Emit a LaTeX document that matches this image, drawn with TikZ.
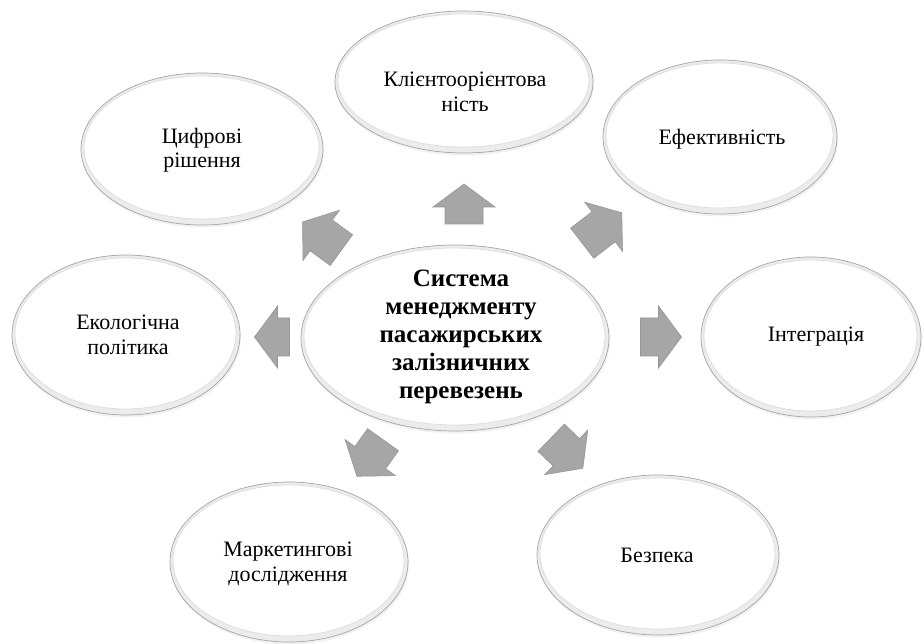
\documentclass[tikz,border=0pt]{standalone}
\usepackage{fontspec}
\setmainfont{Liberation Serif}
\usetikzlibrary{shapes.geometric}
\definecolor{arrowfill}{RGB}{166,166,166}
\definecolor{arrowedge}{RGB}{150,150,150}
\definecolor{bubedge}{RGB}{165,165,165}
\definecolor{bubband}{RGB}{236,236,236}
\definecolor{bubring}{RGB}{222,222,222}
\tikzset{
  bub/.style={ellipse, draw=bubedge, line width=0.7pt, fill=bubband, inner sep=0pt},
  bubshadow/.style={fill=black, opacity=0.05},
  bubinner/.style={fill=white, draw=bubring, line width=0.8pt},
  lbl/.style={align=center, inner sep=0pt, font=\fontsize{22}{24.5}\selectfont},
  mainlbl/.style={align=center, inner sep=0pt, font=\fontsize{25}{28}\selectfont\bfseries},
  blockarrow/.style={fill=arrowfill, draw=arrowedge, line width=0.6pt, line join=miter}
}
% \bubble{name}{x}{y}{rx}{ry}
\newcommand{\bubble}[5]{%
  \fill[bubshadow] (#2+1,#3+2.5) ellipse ({#4pt} and {#5pt});
  \node[bub, minimum width=2*#4pt, minimum height=2*#5pt] (#1) at (#2,#3) {};
  \path[bubinner] (#2-0.5,#3-1.5) ellipse ({#4pt-3.5pt} and {#5pt-4.5pt});
}
% \blkarrow{x}{y}{angle}{length}
\newcommand{\blkarrow}[4]{%
  \path[blockarrow, shift={(#1,#2)}, rotate=#3]
    (-#4/2,-19) -- (#4/2-23,-19) -- (#4/2-23,-31) -- (#4/2,0) --
    (#4/2-23,31) -- (#4/2-23,19) -- (-#4/2,19) -- cycle;
}
\begin{document}
\begin{tikzpicture}[x=1pt,y=-1pt]
\useasboundingbox (0,0) rectangle (924,644);
\fill[white] (0,0) rectangle (924,644);

% satellites
\bubble{kl}{464}{82}{129}{71}
\bubble{cy}{202}{149}{121}{76}
\bubble{ef}{720}{137}{117}{77}
\bubble{ek}{126}{335}{114}{80}
\bubble{int}{811}{337}{110}{80}
\bubble{ma}{289}{562}{119}{80}
\bubble{be}{658}{555}{121}{80}
% centre
\bubble{ce}{455}{338}{154}{93}

\node[lbl] (klt) at (465,92) {Клієнтоорієнтова\\ність};
\node[lbl] (cyt) at (202,150) {Цифрові\\рішення};
\node[lbl] (eft) at (722,139) {Ефективність};
\node[lbl] (ekt) at (128,335) {Екологічна\\політика};
\node[lbl] (intt) at (816,337) {Інтеграція};
\node[lbl] (mat) at (288,564) {Маркетингові\\дослідження};
\node[lbl] (bet) at (657,555) {Безпека};
\node[mainlbl] (cet) at (461,337) {Система\\менеджменту\\пасажирських\\залізничних\\перевезень};

% block arrows
\blkarrow{464}{204}{90}{40}
\blkarrow{661}{337}{0}{41}
\blkarrow{272}{337}{180}{35}
\blkarrow{322}{236}{144}{48}
\blkarrow{602}{228}{37.6}{50}
\blkarrow{370}{458}{234.4}{45}
\blkarrow{567}{453}{316}{44}
\end{tikzpicture}
\end{document}
